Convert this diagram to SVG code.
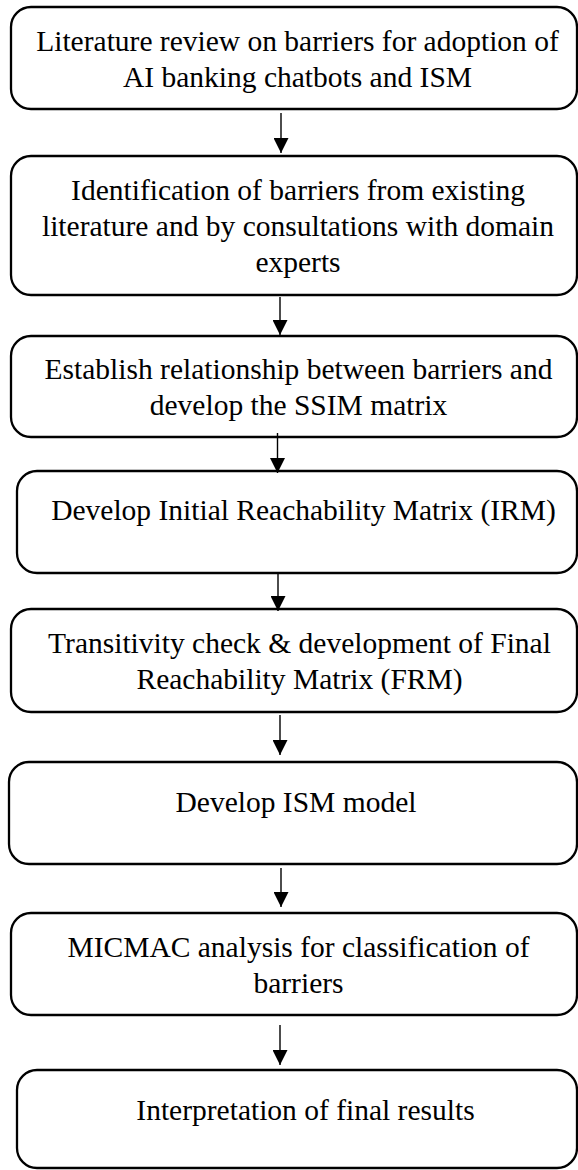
<svg xmlns="http://www.w3.org/2000/svg" width="578" height="1170" viewBox="0 0 578 1170">
<defs>
<style>
.box{fill:#fff;stroke:#000;stroke-width:2.3}
.t{font-family:"Liberation Serif","Times New Roman",serif;font-size:29.5px;fill:#000;text-anchor:middle}
.c{stroke:#000;stroke-width:1.4;fill:none}
</style>
<marker id="ah" viewBox="0 0 15 15" refX="15" refY="7.5" markerWidth="15" markerHeight="15" markerUnits="userSpaceOnUse" orient="auto">
<path d="M0,0 L15,7.5 L0,15 Z" fill="#000"/>
</marker>
</defs>
<rect width="578" height="1170" fill="#fff"/>
<g id="n1"><rect class="box" x="11" y="7" width="566" height="102" rx="20"/>
<text class="t" x="297.5" y="51">Literature review on barriers for adoption of</text>
<text class="t" x="297.5" y="87">AI banking chatbots and ISM</text></g>
<g id="n2"><rect class="box" x="11" y="156" width="566" height="139" rx="20"/>
<text class="t" x="298" y="200">Identification of barriers from existing</text>
<text class="t" x="298" y="236">literature and by consultations with domain</text>
<text class="t" x="298" y="272">experts</text></g>
<g id="n3"><rect class="box" x="11" y="336" width="566" height="101" rx="20"/>
<text class="t" x="298.5" y="379">Establish relationship between barriers and</text>
<text class="t" x="298.5" y="415">develop the SSIM matrix</text></g>
<g id="n4"><rect class="box" x="17" y="471" width="560" height="102" rx="20"/>
<text class="t" x="303.5" y="520">Develop Initial Reachability Matrix (IRM)</text></g>
<g id="n5"><rect class="box" x="11" y="609" width="566" height="103" rx="20"/>
<text class="t" x="299.5" y="653">Transitivity check &amp; development of Final</text>
<text class="t" x="299.5" y="689">Reachability Matrix (FRM)</text></g>
<g id="n6"><rect class="box" x="9" y="762" width="568" height="102" rx="20"/>
<text class="t" x="296" y="812">Develop ISM model</text></g>
<g id="n7"><rect class="box" x="11" y="913" width="566" height="102" rx="20"/>
<text class="t" x="298.5" y="957">MICMAC analysis for classification of</text>
<text class="t" x="298.5" y="993">barriers</text></g>
<g id="n8"><rect class="box" x="17" y="1070" width="560" height="98" rx="20"/>
<text class="t" x="305.5" y="1120">Interpretation of final results</text></g>
<g id="connectors">
<line class="c" x1="281" y1="113" x2="281" y2="153" marker-end="url(#ah)"/>
<line class="c" x1="280" y1="297" x2="280" y2="335" marker-end="url(#ah)"/>
<line class="c" x1="277.5" y1="433" x2="277.5" y2="473" marker-end="url(#ah)"/>
<line class="c" x1="278" y1="572" x2="278" y2="611" marker-end="url(#ah)"/>
<line class="c" x1="280" y1="715" x2="280" y2="755" marker-end="url(#ah)"/>
<line class="c" x1="281" y1="868" x2="281" y2="907" marker-end="url(#ah)"/>
<line class="c" x1="280" y1="1025" x2="280" y2="1065" marker-end="url(#ah)"/>
</g>
</svg>
